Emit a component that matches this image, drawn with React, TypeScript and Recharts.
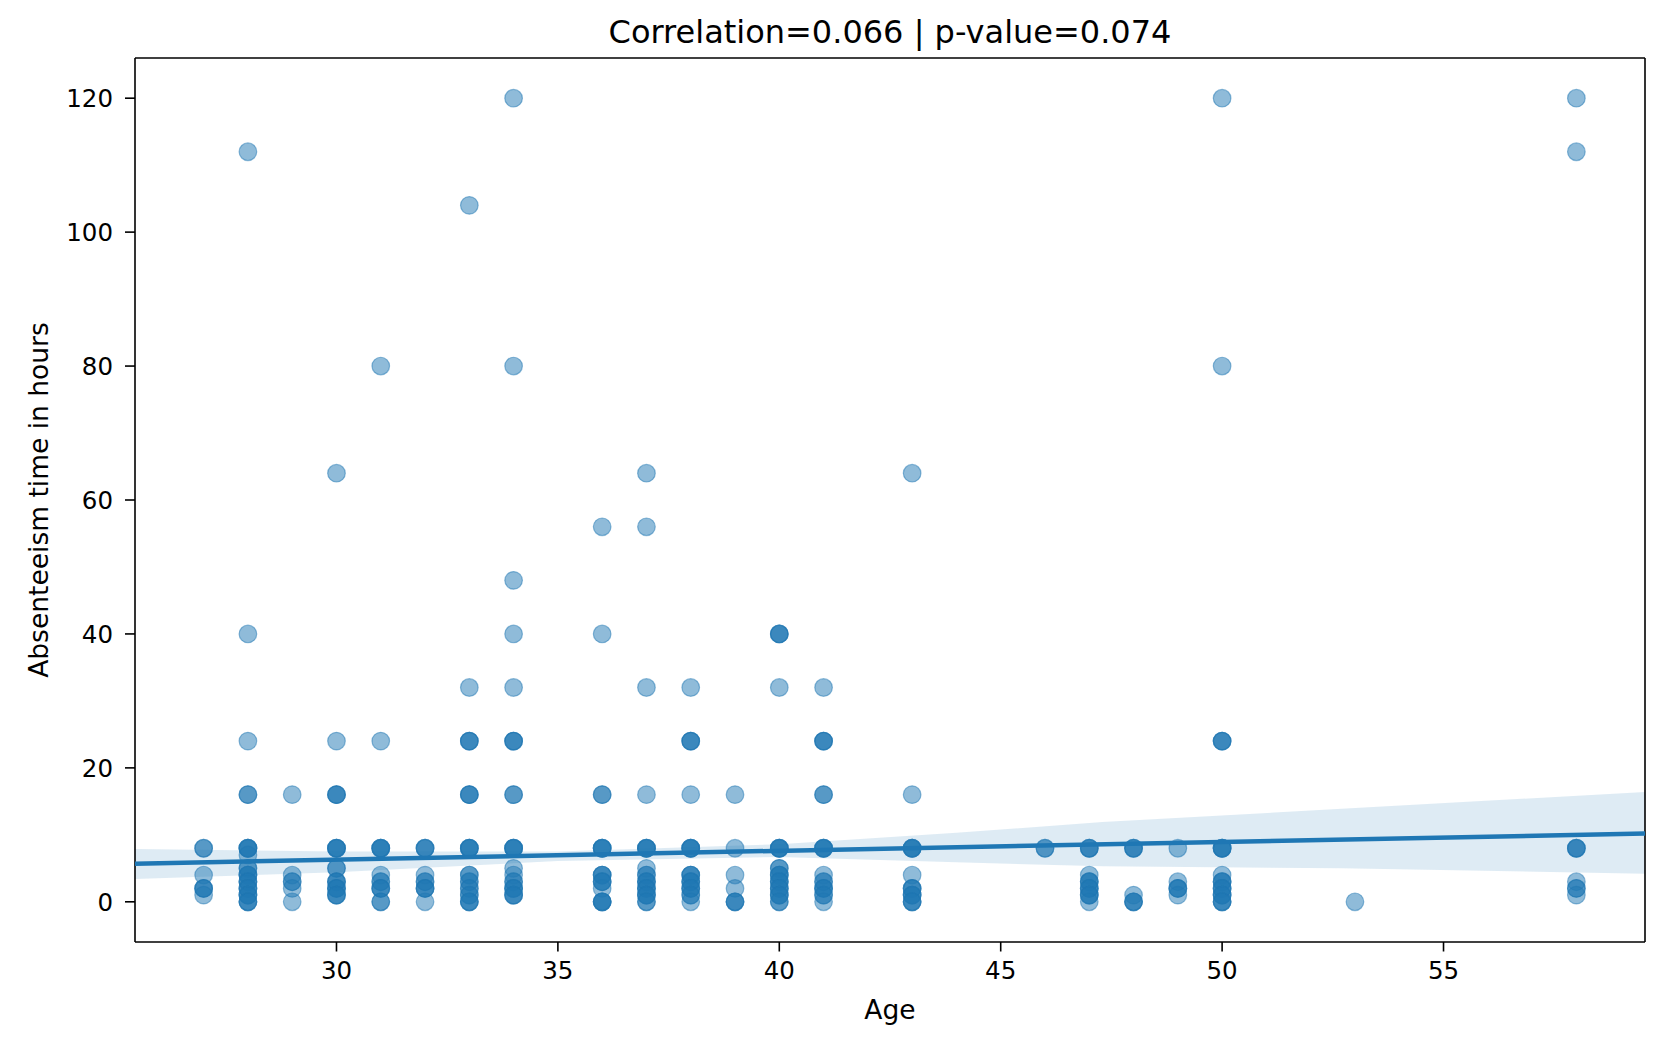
import React from "react";
import { Area, ComposedChart, Line, Scatter, XAxis, YAxis } from "recharts";

const FONT = "'DejaVu Sans', sans-serif";
const BLUE = "#1f77b4";

// one entry per distinct (age, hours) pair; count = how many employees share it
const pointAge = [
    27, 27, 27, 27,
    28, 28, 28, 28, 28, 28, 28, 28, 28, 28, 28, 28,
    29, 29, 29, 29, 29,
    30, 30, 30, 30, 30, 30, 30, 30,
    31, 31, 31, 31, 31, 31, 31,
    32, 32, 32, 32, 32,
    33, 33, 33, 33, 33, 33, 33, 33, 33, 33,
    34, 34, 34, 34, 34, 34, 34, 34, 34, 34, 34, 34, 34,
    36, 36, 36, 36, 36, 36, 36, 36,
    37, 37, 37, 37, 37, 37, 37, 37, 37, 37, 37,
    38, 38, 38, 38, 38, 38, 38, 38, 38,
    39, 39, 39, 39, 39,
    40, 40, 40, 40, 40, 40, 40, 40, 40,
    41, 41, 41, 41, 41, 41, 41, 41, 41,
    43, 43, 43, 43, 43, 43, 43,
    46,
    47, 47, 47, 47, 47, 47,
    48, 48, 48,
    49, 49, 49, 49,
    50, 50, 50, 50, 50, 50, 50, 50, 50,
    53,
    58, 58, 58, 58, 58, 58,
];
const pointHours = [
    8, 4, 2, 1,
    112, 40, 24, 16, 8, 7, 5, 4, 3, 2, 1, 0,
    16, 4, 3, 2, 0,
    64, 24, 16, 8, 5, 3, 2, 1,
    80, 24, 8, 4, 3, 2, 0,
    8, 4, 3, 2, 0,
    104, 32, 24, 16, 8, 4, 3, 2, 1, 0,
    120, 80, 48, 40, 32, 24, 16, 8, 5, 4, 3, 2, 1,
    56, 40, 16, 8, 4, 3, 2, 0,
    64, 56, 32, 16, 8, 5, 4, 3, 2, 1, 0,
    32, 24, 16, 8, 4, 3, 2, 1, 0,
    16, 8, 4, 2, 0,
    40, 32, 8, 5, 4, 3, 2, 1, 0,
    32, 24, 16, 8, 4, 3, 2, 1, 0,
    64, 16, 8, 4, 2, 1, 0,
    8,
    8, 4, 3, 2, 1, 0,
    8, 1, 0,
    8, 3, 2, 1,
    120, 80, 24, 8, 4, 3, 2, 1, 0,
    0,
    120, 112, 8, 3, 2, 1,
];
const pointCount = [
    2, 1, 3, 1,
    1, 1, 1, 2, 4, 1, 2, 3, 3, 3, 3, 3,
    1, 1, 2, 1, 1,
    1, 1, 3, 4, 2, 3, 3, 3,
    1, 1, 4, 1, 2, 3, 2,
    3, 1, 2, 3, 1,
    1, 1, 3, 3, 4, 2, 2, 2, 2, 3,
    1, 1, 1, 1, 1, 3, 2, 4, 1, 1, 2, 3, 3,
    1, 1, 2, 4, 3, 3, 1, 4,
    1, 1, 1, 1, 4, 1, 2, 3, 3, 3, 2,
    1, 3, 1, 4, 3, 3, 3, 2, 1,
    1, 1, 1, 1, 3,
    3, 1, 4, 2, 3, 3, 3, 3, 2,
    1, 3, 2, 4, 1, 2, 3, 2, 1,
    1, 1, 4, 1, 3, 3, 3,
    2,
    3, 1, 3, 3, 3, 1,
    3, 1, 3,
    1, 1, 3, 1,
    1, 1, 3, 4, 1, 3, 3, 3, 3,
    1,
    1, 1, 3, 1, 2, 1,
];

// fitted regression line, across the full x range
const fitAge = [25.45, 59.55];
const fitHours = [5.7, 10.2];

// 95% confidence band around the fit
const bandAge = [25.45, 30, 35, 40, 44, 47.3, 52.7, 59.55];
const bandLow = [3.4, 4.4, 6.1, 6.7, 5.9, 5.3, 5.0, 4.2];
const bandHigh = [7.9, 7.5, 7.5, 8.6, 10.3, 11.9, 13.9, 16.4];

const xTicks = [30, 35, 40, 45, 50, 55];
const yTicks = [0, 20, 40, 60, 80, 100, 120];
const xDomain = [25.45, 59.55];
const yDomain = [-6, 126];

const points = pointAge.flatMap((age, i) =>
    Array.from({ length: pointCount[i] }, () => ({ age, hours: pointHours[i] }))
);
const fit = fitAge.map((age, i) => ({ age, hours: fitHours[i] }));
const band = bandAge.map((age, i) => ({ age, low: bandLow[i], high: bandHigh[i] }));

const tickStyle = { fill: "#000", fontSize: 24.5, fontFamily: FONT };
const spine = { stroke: "#000", strokeWidth: 1.6 };

const Dot = (props) => (
    <circle
        cx={props.cx}
        cy={props.cy}
        r={8.8}
        fill={BLUE}
        fillOpacity={0.5}
        stroke={BLUE}
        strokeOpacity={0.5}
        strokeWidth={1.2}
    />
);

const TitleLabel = ({ viewBox }) => (
    <text x={viewBox.x + viewBox.width / 2} y={viewBox.y + viewBox.height - 15.5} textAnchor="middle" fontSize={32} fontFamily={FONT} fill="#000">
        Correlation=0.066 | p-value=0.074
    </text>
);

const AgeLabel = ({ viewBox }) => (
    <text x={viewBox.x + viewBox.width / 2} y={viewBox.y + 77} textAnchor="middle" fontSize={26.5} fontFamily={FONT} fill="#000">
        Age
    </text>
);

const HoursLabel = ({ viewBox }) => {
    const x = viewBox.x + 48;
    const y = viewBox.y + viewBox.height / 2;
    return (
        <text x={x} y={y} transform={`rotate(-90, ${x}, ${y})`} textAnchor="middle" fontSize={26.5} fontFamily={FONT} fill="#000">
            Absenteeism time in hours
        </text>
    );
};

const App = () => {
    return (
        <div style={{ position: "absolute", left: 0, top: 0, background: "#fff" }}>
            <ComposedChart width={1665} height={1053} margin={{ top: 57, right: 19, bottom: 0, left: 0 }}>
                <XAxis
                    dataKey="age"
                    type="number"
                    domain={xDomain}
                    ticks={xTicks}
                    allowDataOverflow
                    height={111}
                    tickSize={9.5}
                    tickMargin={10}
                    tick={tickStyle}
                    axisLine={spine}
                    tickLine={spine}
                    label={AgeLabel}
                />
                <XAxis
                    xAxisId="top"
                    orientation="top"
                    type="number"
                    domain={xDomain}
                    allowDataOverflow
                    height={1}
                    tick={false}
                    tickLine={false}
                    axisLine={spine}
                    label={TitleLabel}
                />
                <YAxis
                    type="number"
                    domain={yDomain}
                    ticks={yTicks}
                    allowDataOverflow
                    width={135}
                    tickSize={10}
                    tickMargin={12}
                    tick={tickStyle}
                    axisLine={spine}
                    tickLine={spine}
                    label={HoursLabel}
                />
                <YAxis
                    yAxisId="right"
                    orientation="right"
                    type="number"
                    domain={yDomain}
                    allowDataOverflow
                    width={1}
                    tick={false}
                    tickLine={false}
                    axisLine={spine}
                />
                <Scatter data={points} dataKey="hours" shape={Dot} isAnimationActive={false} zIndex={300} />
                <Area
                    data={band}
                    dataKey={(d) => [d.low, d.high]}
                    type="linear"
                    stroke="none"
                    fill={BLUE}
                    fillOpacity={0.15}
                    dot={false}
                    activeDot={false}
                    isAnimationActive={false}
                    zIndex={400}
                />
                <Line
                    data={fit}
                    dataKey="hours"
                    type="linear"
                    stroke={BLUE}
                    strokeWidth={4.5}
                    dot={false}
                    activeDot={false}
                    isAnimationActive={false}
                    zIndex={500}
                />
            </ComposedChart>
        </div>
    );
};

export default App;
